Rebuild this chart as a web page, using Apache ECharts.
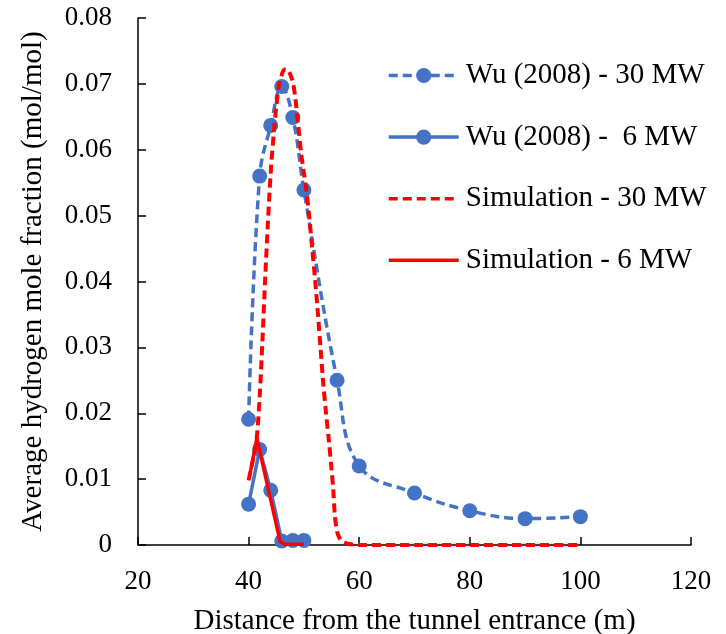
<!DOCTYPE html>
<html>
<head>
<meta charset="utf-8">
<script src="https://cdn.jsdelivr.net/npm/echarts@6/dist/echarts.min.js"></script>
<style>
  html, body { margin: 0; padding: 0; background: #fff; }
  #chart { width: 726px; height: 634px; }
</style>
</head>
<body>
<div id="chart"></div>
<script>
// Measured hydrogen mole fraction (Wu 2008) and simulation results
const wu30X = [40, 42, 44, 46, 48, 50, 56, 60, 70, 80, 90, 100];
const wu30Y = [0.0191, 0.0560, 0.0637, 0.0696, 0.0649, 0.0539, 0.0250, 0.0120, 0.0079, 0.0052, 0.0040, 0.0043];

const wu6X = [40, 42, 44, 46, 48, 50];
const wu6Y = [0.0062, 0.0145, 0.0083, 0.0006, 0.0007, 0.0007];

const sim30X = [40, 40.5, 41, 41.5, 42, 42.5, 43, 43.5, 44, 44.5, 45, 45.5, 46, 46.5, 47, 47.5,
                48, 48.5, 49, 49.5, 50, 50.5, 51, 51.5, 52, 52.5, 53, 53.5, 54, 54.5, 55, 55.3,
                55.6, 56, 56.5, 57, 58, 60, 70, 80, 90, 100];
const sim30Y = [0.0098, 0.0118, 0.0138, 0.0165, 0.0225, 0.0310, 0.0405, 0.0490, 0.0565, 0.0620,
                0.0665, 0.0698, 0.0714, 0.0722, 0.0722, 0.0715, 0.0703, 0.0675, 0.0635, 0.0595,
                0.0565, 0.0535, 0.0495, 0.0450, 0.0405, 0.0355, 0.0300, 0.0245, 0.0200, 0.0160,
                0.0115, 0.0085, 0.0045, 0.0020, 0.0010, 0.0005, 0.0002, 0, 0, 0, 0, 0];

const sim6X = [40.3, 41.5, 45.7, 46.6, 50];
const sim6Y = [0.0110, 0.0162, 0.0005, 0.0001, 0.0001];

const xTicks = { min: 20, max: 120, step: 20 };
const yTicks = { min: 0, max: 0.08, step: 0.01 };

const seriesNames = ['Wu (2008) - 30 MW', 'Wu (2008) -  6 MW', 'Simulation - 30 MW', 'Simulation - 6 MW'];

const pairs = (xs, ys) => xs.map((x, i) => [x, ys[i]]);

const FONT = "'Liberation Serif', 'Times New Roman', serif";
const BLUE = '#4472C4';
const RED = '#FF0000';
const DASH = [9, 5];

const chart = echarts.init(document.getElementById('chart'), null, { renderer: 'canvas' });

chart.setOption({
  backgroundColor: '#ffffff',
  animation: false,
  textStyle: { fontFamily: FONT, color: '#000' },
  grid: { left: 138, right: 35, top: 18, bottom: 89, containLabel: false, outerBoundsMode: 'none' },
  legend: {
    orient: 'vertical',
    left: 387,
    top: 61,
    padding: 0,
    itemWidth: 70,
    itemHeight: 19,
    itemGap: 32.6,
    textStyle: { fontFamily: FONT, fontSize: 29, color: '#000', padding: [0, 0, 0, 2] },
    data: [
      { name: seriesNames[0], lineStyle: { color: BLUE, width: 3.5, type: DASH } },
      { name: seriesNames[1], lineStyle: { color: BLUE, width: 3.5, type: 'solid' } },
      { name: seriesNames[2], lineStyle: { color: RED, width: 3.5, type: DASH }, itemStyle: { opacity: 0 } },
      { name: seriesNames[3], lineStyle: { color: RED, width: 3.5, type: 'solid' }, itemStyle: { opacity: 0 } }
    ]
  },
  xAxis: {
    type: 'value',
    min: xTicks.min,
    max: xTicks.max,
    interval: xTicks.step,
    name: 'Distance from the tunnel entrance (m)',
    nameLocation: 'middle',
    nameGap: 62,
    nameTextStyle: { fontFamily: FONT, fontSize: 29, color: '#000' },
    axisLine: { show: true, onZero: false, lineStyle: { color: '#000', width: 1.5 } },
    axisTick: { show: true, inside: true, length: 8, lineStyle: { color: '#000', width: 1.5 } },
    axisLabel: { fontFamily: FONT, fontSize: 27, color: '#000', margin: 23 },
    splitLine: { show: false }
  },
  yAxis: {
    type: 'value',
    min: yTicks.min,
    max: yTicks.max,
    interval: yTicks.step,
    name: 'Average hydrogen mole fraction (mol/mol)',
    nameLocation: 'middle',
    nameGap: 90,
    nameTextStyle: { fontFamily: FONT, fontSize: 29, color: '#000' },
    axisLine: { show: true, onZero: false, lineStyle: { color: '#000', width: 1.5 } },
    axisTick: { show: true, inside: true, length: 8, lineStyle: { color: '#000', width: 1.5 } },
    axisLabel: {
      fontFamily: FONT, fontSize: 27, color: '#000', margin: 26,
      formatter: v => (v === 0 ? '0' : v.toFixed(2))
    },
    splitLine: { show: false }
  },
  series: [
    {
      name: seriesNames[0],
      type: 'line',
      data: pairs(wu30X, wu30Y),
      smooth: 0.4,
      symbol: 'circle',
      symbolSize: 15,
      itemStyle: { color: BLUE },
      lineStyle: { color: BLUE, width: 3.5, type: DASH },
      z: 2
    },
    {
      name: seriesNames[1],
      type: 'line',
      data: pairs(wu6X, wu6Y),
      symbol: 'circle',
      symbolSize: 15,
      itemStyle: { color: BLUE },
      lineStyle: { color: BLUE, width: 3.5 },
      z: 2
    },
    {
      name: seriesNames[2],
      type: 'line',
      data: pairs(sim30X, sim30Y),
      smooth: 0.3,
      symbol: 'none',
      itemStyle: { color: RED },
      lineStyle: { color: RED, width: 4, type: DASH },
      z: 3
    },
    {
      name: seriesNames[3],
      type: 'line',
      data: pairs(sim6X, sim6Y),
      symbol: 'none',
      itemStyle: { color: RED },
      lineStyle: { color: RED, width: 3.5 },
      z: 3
    }
  ]
});
</script>
</body>
</html>
